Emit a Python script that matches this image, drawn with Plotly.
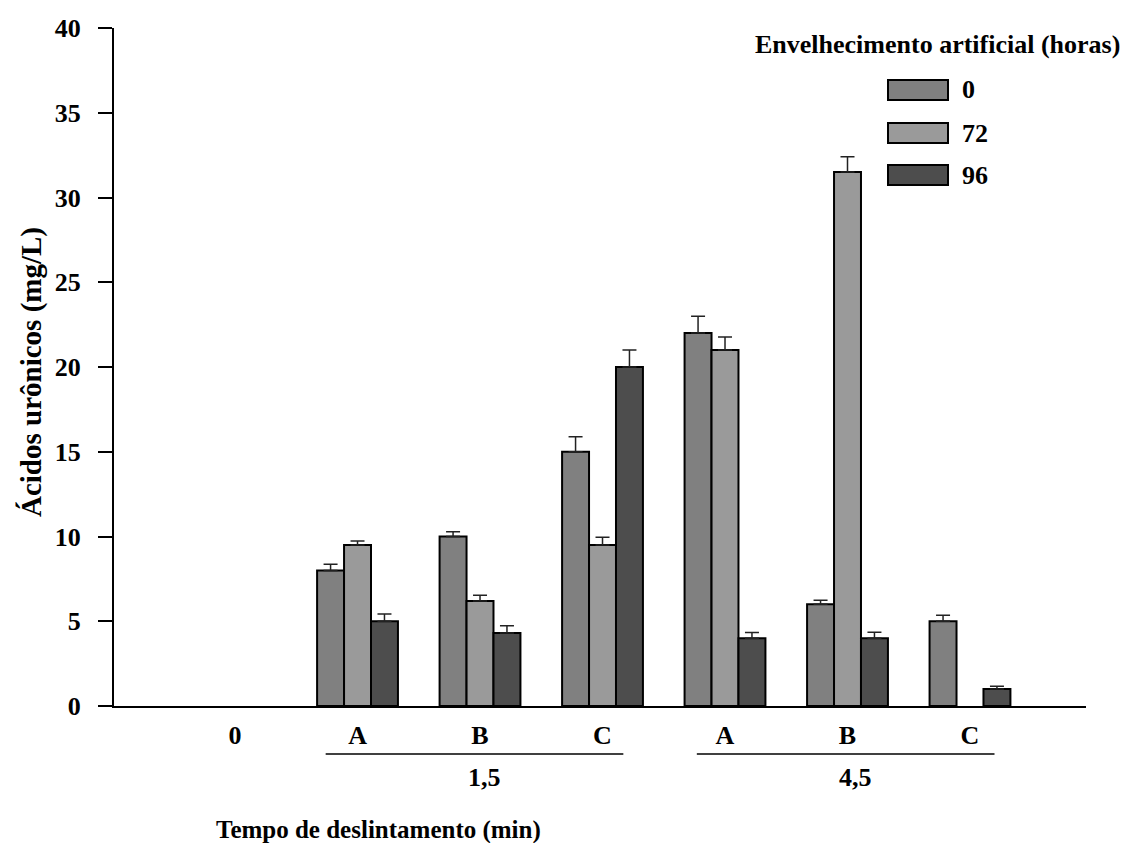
import plotly.graph_objects as go

# ---- data ----
categories = ["0", "A", "B", "C", "A", "B", "C"]
groups = ["1,5", "4,5"]
series_names = ["0", "72", "96"]
vals_0 = [None, 8.0, 10.0, 15.0, 22.0, 6.0, 5.0]
vals_72 = [None, 9.5, 6.2, 9.5, 21.0, 31.5, None]
vals_96 = [None, 5.0, 4.3, 20.0, 4.0, 4.0, 1.0]
err_0 = [0, 0.37, 0.28, 0.88, 1.0, 0.24, 0.35]
err_72 = [0, 0.23, 0.33, 0.45, 0.77, 0.9, 0]
err_96 = [0, 0.43, 0.43, 1.0, 0.33, 0.35, 0.16]
y_ticks = [0, 5, 10, 15, 20, 25, 30, 35, 40]

colors = ["#808080", "#9a9a9a", "#4d4d4d"]
FONT = "Liberation Serif"

# page body has an 8px margin; work in reference pixel frame and compensate
OFF = 8
W, H = 1129 - OFF, 843 - OFF
L, R, T, B = 114, 1086, 28, 706


def px(x):
    return (x - L) / (R - L)


def py(y):
    return (B - y) / (B - T)


fig = go.Figure()
xs = list(range(len(categories)))
for name, vals, errs, col in zip(series_names, [vals_0, vals_72, vals_96],
                                 [err_0, err_72, err_96], colors):
    fig.add_trace(go.Bar(
        x=xs, y=vals, name=name, showlegend=False,
        marker=dict(color=col, line=dict(color="black", width=2)),
        error_y=dict(type="data", symmetric=False, array=errs,
                     arrayminus=[0] * len(errs), color="#222222",
                     thickness=1.5, width=7, visible=True),
    ))

fig.update_layout(
    width=W, height=H,
    margin=dict(l=L - OFF, r=W - (R - OFF), t=T - OFF, b=H - (B - OFF), pad=0,
                autoexpand=False),
    paper_bgcolor="white", plot_bgcolor="white",
    barmode="group", bargap=0.34, bargroupgap=0,
    font=dict(family=FONT, size=26, color="black", weight="bold"),
    xaxis=dict(
        range=[-0.988, 6.947], tickmode="array", tickvals=xs,
        ticktext=categories, showline=True, linecolor="black", linewidth=2,
        ticks="", showgrid=False, zeroline=False, automargin=False,
        tickfont=dict(family=FONT, size=26, weight="bold"),
        ticklabelstandoff=5,
    ),
    yaxis=dict(
        range=[0, 40], tickvals=y_ticks, showline=True, linecolor="black",
        linewidth=2, ticks="outside", ticklen=14, tickwidth=1.5,
        tickcolor="black", showgrid=False, zeroline=False, automargin=False,
        tickfont=dict(family=FONT, size=26, weight="bold"),
        ticklabelstandoff=12,
    ),
)

annotations = []
shapes = []
# group lines and labels
group_spans = [(0.74, 3.17), (3.77, 6.2)]
for g, (a, b) in zip(groups, group_spans):
    shapes.append(dict(type="line", xref="x", yref="paper", x0=a, x1=b,
                       y0=py(754), y1=py(754), line=dict(color="black", width=1.5)))
    annotations.append(dict(x=(a + b) / 2 + 0.08, y=py(777), xref="x", yref="paper",
                            text=g, showarrow=False,
                            font=dict(family=FONT, size=26, weight="bold"),
                            xanchor="center", yanchor="middle"))

# axis titles
annotations.append(dict(x=px(378), y=py(830), xref="paper", yref="paper",
                        text="Tempo de deslintamento (min)", showarrow=False,
                        font=dict(family=FONT, size=25, weight="bold"),
                        xanchor="center", yanchor="middle"))
annotations.append(dict(x=px(31), y=py(372), xref="paper", yref="paper",
                        text="Ácidos urônicos (mg/L)", showarrow=False, textangle=-90,
                        font=dict(family=FONT, size=29, weight="bold"),
                        xanchor="center", yanchor="middle"))

# legend (drawn manually)
annotations.append(dict(x=px(1122), y=py(45), xref="paper", yref="paper",
                        text="Envelhecimento artificial (horas)", showarrow=False,
                        font=dict(family=FONT, size=26, weight="bold"),
                        xanchor="right", yanchor="middle"))
leg_y = [90, 133, 175]
for name, col, yc in zip(series_names, colors, leg_y):
    shapes.append(dict(type="rect", xref="paper", yref="paper",
                       x0=px(888), x1=px(948), y0=py(yc - 10), y1=py(yc + 10),
                       fillcolor=col, line=dict(color="black", width=2)))
    annotations.append(dict(x=px(960), y=py(yc), xref="paper", yref="paper",
                            text=name, showarrow=False,
                            font=dict(family=FONT, size=26, weight="bold"),
                            xanchor="left", yanchor="middle"))

fig.update_layout(annotations=annotations, shapes=shapes)
fig.write_html("out.html")
